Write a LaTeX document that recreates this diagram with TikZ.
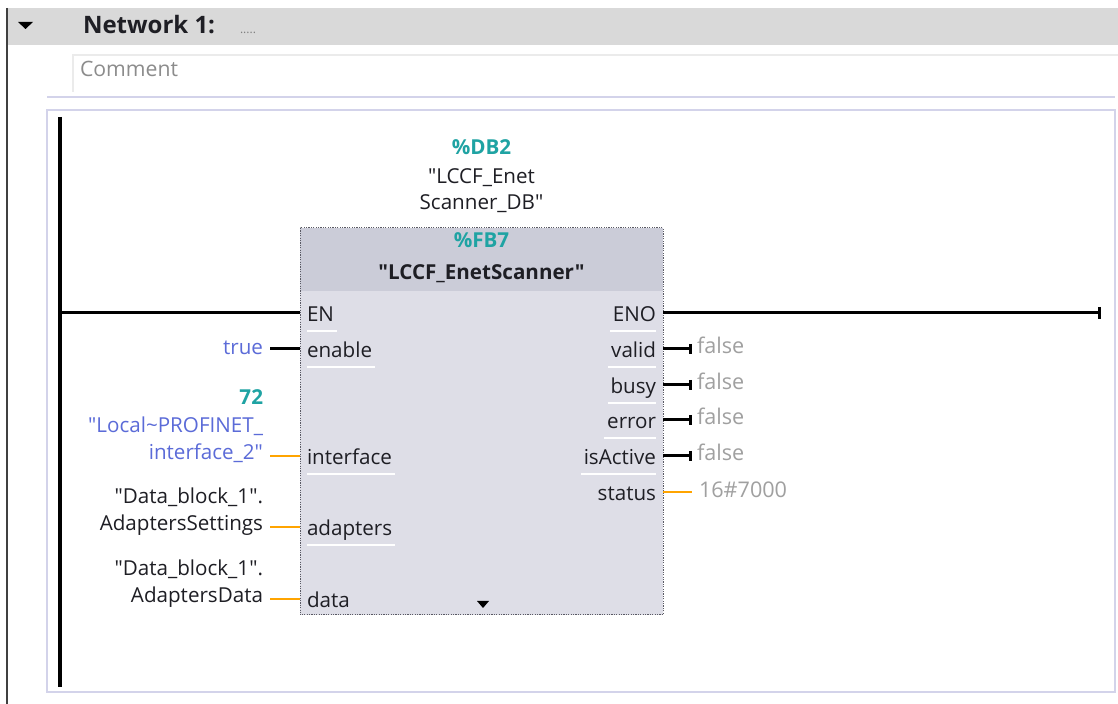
\documentclass[tikz,border=0pt]{standalone}
\usepackage{fontspec}
\setmainfont{Open Sans}
\newfontfamily\uif{Open Sans}
\usetikzlibrary{arrows.meta,calc}
\definecolor{hdrgray}{HTML}{D9D9D9}
\definecolor{cmtline}{HTML}{EBEBEB}
\definecolor{lav}{HTML}{D3D3EA}
\definecolor{blkbody}{HTML}{DEDEE7}
\definecolor{blkhead}{HTML}{CBCCD8}
\definecolor{blkborder}{HTML}{5A5A64}
\definecolor{teal}{HTML}{1FA3A3}
\definecolor{valblue}{HTML}{5B6BD8}
\definecolor{txtdark}{HTML}{1E1E24}
\definecolor{falsegray}{HTML}{A0A0A0}
\definecolor{wireorange}{HTML}{FFA400}
\begin{document}
\begin{tikzpicture}[x=0.5pt,y=-0.5pt,
  every node/.style={inner sep=0pt,outer sep=0pt},
  txt/.style={font=\uif\fontsize{10.3}{12}\selectfont},
  btxt/.style={font=\uif\fontsize{10.3}{12}\selectfont\bfseries},
  pinfont/.style={txt, text=txtdark},
  pinl/.style={pinfont, anchor=base west},
  pinr/.style={pinfont, anchor=base east},
  valtxt/.style={txt, anchor=base east},
  bwire/.style={line width=1.5pt, black},
  owire/.style={line width=1.1pt, wireorange},
  outwire/.style={line width=1.5pt, black, -{Bar[width=5pt]}},
  falsetxt/.style={font=\uif\fontsize{10.8}{12}\selectfont, text=falsegray, anchor=base west},
  sepline/.style={white, line width=0.8pt}]
\useasboundingbox (0,0) rectangle (1118,704);
\fill[white] (0,0) rectangle (1118,704);
% window frame and network header
\draw[line width=0.9pt, black!75] (7,8) -- (7,704);
\fill[hdrgray] (8,8) rectangle (1118,45);
\fill[black] (18,22) -- (33,22) -- (25.5,29) -- cycle;
\node[anchor=base west, font=\uif\fontsize{12}{14}\selectfont\bfseries, text=txtdark] (net) at (83,34) {Network 1:};
\node[anchor=base west, font=\uif\fontsize{6}{7}\selectfont, text=gray] (netdots) at (240,34) {.....};
% comment field
\draw[cmtline, line width=1pt] (73,92) -- (73,55) -- (1118,55);
\node[anchor=base west, font=\uif\fontsize{10.6}{12}\selectfont, text=gray!90] (cmt) at (80,77) {Comment};
% network area
\draw[lav, line width=1pt] (47,97) -- (1115,97);
\draw[lav, line width=1pt] (47,110) rectangle (1115,692);
% power rail
\coordinate (railtop) at (60,117);
\coordinate (railbot) at (60,687);
\draw[line width=2pt, black] (railtop) -- (railbot);
% instance DB label
\node[anchor=base, btxt, text=teal] (db) at (481.5,155) {\%DB2};
\node[anchor=base, txt, text=txtdark] (dbn1) at (481.5,184) {"LCCF\_Enet};
\node[anchor=base, txt, text=txtdark] (dbn2) at (481.5,210) {Scanner\_DB"};
% block
\node[anchor=north west, minimum width=181.5pt, minimum height=193.5pt, fill=blkbody] (blk) at (300,228) {};
\fill[blkhead] (300,228) rectangle (663,291);
\draw[blkborder, line width=0.5pt, dash pattern=on 0.6pt off 0.6pt] (blk.north west) rectangle (blk.south east);
\node[anchor=base, btxt, text=teal] (fb) at (481.5,248) {\%FB7};
\node[anchor=base, btxt, text=txtdark] (fbn) at (481.5,280) {"LCCF\_EnetScanner"};
\fill[black] (477,601) -- (489,601) -- (483,608) -- cycle;
% input pins
\node[pinl] (lEN) at (307,322) {EN};
\node[pinl] (lenable) at (307,358) {enable};
\node[pinl] (linterface) at (307,465) {interface};
\node[pinl] (ladapters) at (307,536) {adapters};
\node[pinl] (ldata) at (307,608) {data};
\foreach \n in {lEN,lenable,linterface,ladapters}{
  \draw[sepline] ($(\n.base west)+(0,9)$) -- ($(\n.base east)+(3,9)$);
}
% output pins
\node[pinr] (rENO) at (656,322) {ENO};
\node[pinr] (rvalid) at (656,358) {valid};
\node[pinr] (rbusy) at (656,394) {busy};
\node[pinr] (rerror) at (656,429) {error};
\node[pinr] (risActive) at (656,465) {isActive};
\node[pinr] (rstatus) at (656,501) {status};
\foreach \n in {rENO,rvalid,rbusy,rerror,risActive}{
  \draw[sepline] ($(\n.base west)+(-3,9)$) -- ($(\n.base east)+(0,9)$);
}
% pin coordinates on block edge
\coordinate (pEN) at (300,313);
\coordinate (pENO) at (663,313);
\coordinate (pEnable) at (300,349);
\coordinate (pInterface) at (300,456);
\coordinate (pAdapters) at (300,527);
\coordinate (pData) at (300,599);
\coordinate (pValid) at (663,349);
\coordinate (pBusy) at (663,385);
\coordinate (pError) at (663,420);
\coordinate (pIsActive) at (663,456);
\coordinate (pStatus) at (663,492);
% rung
\coordinate (railEN) at (60,313);
\coordinate (endENO) at (1101,313);
\draw[bwire] (railEN) -- (pEN);
\draw[bwire, -{Bar[width=6pt]}] (pENO) -- (endENO);
% input values
\node[valtxt, text=valblue] (vtrue) at (263,355) {true};
\coordinate (wtrue) at (270,349);
\draw[bwire] (wtrue) -- (pEnable);
\node[btxt, anchor=base east, text=teal] (v72) at (263,405) {72};
\node[valtxt, text=valblue] (vloc1) at (263,432.5) {"Local\textasciitilde PROFINET\_};
\node[valtxt, text=valblue] (vloc2) at (263,460) {interface\_2"};
\coordinate (winterface) at (270,456);
\draw[owire] (winterface) -- (pInterface);
\node[valtxt, text=txtdark] (vad1) at (263,503.5) {"Data\_block\_1".};
\node[valtxt, text=txtdark] (vad2) at (263,531) {AdaptersSettings};
\coordinate (wadapters) at (270,527);
\draw[owire] (wadapters) -- (pAdapters);
\node[valtxt, text=txtdark] (vda1) at (263,575.5) {"Data\_block\_1".};
\node[valtxt, text=txtdark] (vda2) at (263,603) {AdaptersData};
\coordinate (wdata) at (270,599);
\draw[owire] (wdata) -- (pData);
% outputs
\coordinate (oValid) at (692,349);
\coordinate (oBusy) at (692,385);
\coordinate (oError) at (692,420);
\coordinate (oIsActive) at (692,456);
\coordinate (oStatus) at (692,492);
\draw[outwire] (pValid) -- (oValid);
\draw[outwire] (pBusy) -- (oBusy);
\draw[outwire] (pError) -- (oError);
\draw[outwire] (pIsActive) -- (oIsActive);
\draw[owire] (pStatus) -- (oStatus);
\node[falsetxt] (fvalid) at (697,354) {false};
\node[falsetxt] (fbusy) at (697,390) {false};
\node[falsetxt] (ferror) at (697,425) {false};
\node[falsetxt] (fisActive) at (697,461) {false};
\node[falsetxt] (fstatus) at (699,498) {16\#7000};
\end{tikzpicture}
\end{document}
